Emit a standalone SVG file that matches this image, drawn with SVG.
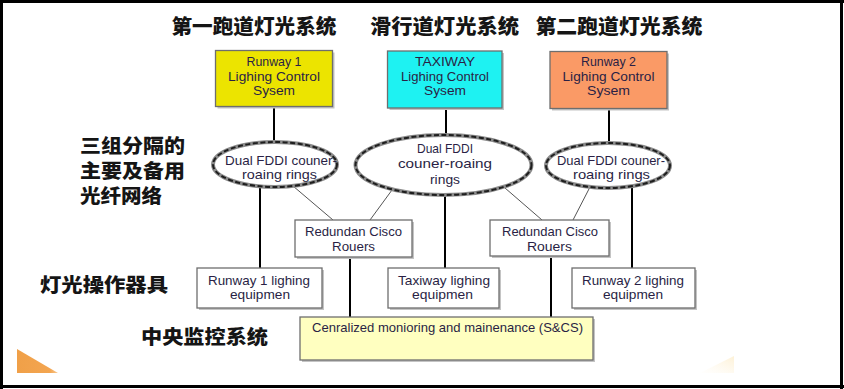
<svg xmlns="http://www.w3.org/2000/svg" width="844" height="389" viewBox="0 0 844 389">
<defs>
<linearGradient id="triG" x1="0" y1="0" x2="1" y2="0">
<stop offset="0" stop-color="#F0A048"/>
<stop offset="0.8" stop-color="#F3A550"/>
<stop offset="1" stop-color="#F8C890"/>
</linearGradient>
<linearGradient id="brG" x1="0" y1="1" x2="1" y2="0">
<stop offset="0" stop-color="#FFFAF0" stop-opacity="0.1"/>
<stop offset="1" stop-color="#FDF1D6"/>
</linearGradient>
<style>
.cjk{font-family:"Noto Sans CJK SC","Noto Sans CJK JP",sans-serif;font-weight:900;fill:#151515;}
.ti{font-size:20.5px;text-anchor:middle;}
.lb{font-size:19px;}
.t{font-family:"Liberation Sans",Arial,sans-serif;font-size:13px;fill:#2a1f45;text-anchor:middle;}
.box{stroke:#6e6e6e;stroke-width:1.3;}
.sh{fill:#c4c4c4;}
.vl{stroke:#000;stroke-width:2;fill:none;}
.dl{stroke:#555;stroke-width:1;fill:none;}
.ring{fill:#fff;stroke:#8c8c8c;stroke-width:4;}
.ringd{fill:none;stroke:#1e1e1e;stroke-width:2;stroke-dasharray:5 2.5;}
</style>
</defs>
<rect x="0" y="0" width="844" height="389" fill="#fff"/>
<g id="frame" stroke="#000" stroke-width="3" fill="none">
<line x1="0" y1="1.5" x2="844" y2="1.5"/>
<line x1="1.5" y1="0" x2="1.5" y2="389"/>
<line x1="0" y1="386.5" x2="844" y2="386.5"/>
<line x1="841.5" y1="0" x2="841.5" y2="389"/>
</g>
<polygon points="17,349 17,373 58,373" fill="url(#triG)"/>
<polygon points="700,373 734,356 734,373" fill="url(#brG)"/>

<g id="titles" class="cjk ti">
<text x="254" y="34" textLength="165" lengthAdjust="spacingAndGlyphs">第一跑道灯光系统</text>
<text x="444.5" y="34" textLength="149" lengthAdjust="spacingAndGlyphs">滑行道灯光系统</text>
<text x="619" y="34" textLength="167" lengthAdjust="spacingAndGlyphs">第二跑道灯光系统</text>
</g>
<g id="labels" class="cjk lb">
<text x="80" y="153" textLength="105" lengthAdjust="spacingAndGlyphs">三组分隔的</text>
<text x="80" y="178" textLength="105" lengthAdjust="spacingAndGlyphs">主要及备用</text>
<text x="80" y="203" textLength="82" lengthAdjust="spacingAndGlyphs">光纤网络</text>
<text x="40" y="292" textLength="128" lengthAdjust="spacingAndGlyphs">灯光操作器具</text>
<text x="141" y="344" textLength="127" lengthAdjust="spacingAndGlyphs">中央监控系统</text>
</g>

<g id="connectors">
<line class="vl" x1="274" y1="107" x2="274" y2="143"/>
<line class="vl" x1="446" y1="108" x2="446" y2="136"/>
<line class="vl" x1="609" y1="109" x2="609" y2="144"/>
<line class="vl" x1="260" y1="186" x2="260" y2="268"/>
<line class="vl" x1="445" y1="194" x2="445" y2="268"/>
<line class="vl" x1="632" y1="187" x2="632" y2="268"/>
<line class="vl" x1="350" y1="257" x2="350" y2="317"/>
<line class="vl" x1="551" y1="256" x2="551" y2="317"/>
<line class="dl" x1="293" y1="186" x2="333" y2="220"/>
<line class="dl" x1="392" y1="190" x2="370" y2="220"/>
<line class="dl" x1="505" y1="188" x2="542" y2="220"/>
<line class="dl" x1="590" y1="187" x2="573" y2="220"/>
</g>

<g id="rwy1-ctrl">
<rect class="sh" x="217.5" y="52.5" width="117" height="56"/>
<rect class="box" x="215.5" y="50.5" width="117" height="56" fill="#ECE400" stroke="#7a7420"/>
<text class="t" x="274" y="66" textLength="55" lengthAdjust="spacingAndGlyphs">Runway 1</text>
<text class="t" x="274" y="81" textLength="92" lengthAdjust="spacingAndGlyphs">Lighing Control</text>
<text class="t" x="274" y="95" textLength="42" lengthAdjust="spacingAndGlyphs">Sysem</text>
</g>
<g id="taxi-ctrl">
<rect class="sh" x="389.5" y="53" width="114.5" height="57"/>
<rect class="box" x="387.5" y="51" width="114.5" height="57" fill="#1EF2F2" stroke="#3a8888"/>
<text class="t" x="445" y="66" textLength="60" lengthAdjust="spacingAndGlyphs">TAXIWAY</text>
<text class="t" x="445" y="81" textLength="88" lengthAdjust="spacingAndGlyphs">Lighing Control</text>
<text class="t" x="445" y="95" textLength="42" lengthAdjust="spacingAndGlyphs">Sysem</text>
</g>
<g id="rwy2-ctrl">
<rect class="sh" x="552" y="53.5" width="117" height="57"/>
<rect class="box" x="550" y="51.5" width="117" height="57" fill="#FA9A66" stroke="#8a5030"/>
<text class="t" x="608.5" y="66" textLength="55" lengthAdjust="spacingAndGlyphs">Runway 2</text>
<text class="t" x="608.5" y="81" textLength="92" lengthAdjust="spacingAndGlyphs">Lighing Control</text>
<text class="t" x="608.5" y="95" textLength="43" lengthAdjust="spacingAndGlyphs">Sysem</text>
</g>

<g id="ring1">
<ellipse class="ring" cx="275" cy="164.5" rx="62" ry="22.5"/>
<ellipse class="ringd" cx="275" cy="164.5" rx="62" ry="22.5"/>
<text class="t" x="281" y="164.5" textLength="112" lengthAdjust="spacingAndGlyphs">Dual FDDI couner-</text>
<text class="t" x="279.5" y="179" textLength="75" lengthAdjust="spacingAndGlyphs">roaing rings</text>
</g>
<g id="ring2">
<ellipse class="ring" cx="443.5" cy="165" rx="88" ry="30"/>
<ellipse class="ringd" cx="443.5" cy="165" rx="88" ry="30"/>
<text class="t" x="445" y="153" textLength="56" lengthAdjust="spacingAndGlyphs">Dual FDDI</text>
<text class="t" x="445" y="168" textLength="94" lengthAdjust="spacingAndGlyphs">couner-roaing</text>
<text class="t" x="445" y="184" textLength="30" lengthAdjust="spacingAndGlyphs">rings</text>
</g>
<g id="ring3">
<ellipse class="ring" cx="608" cy="165.5" rx="62" ry="22.5"/>
<ellipse class="ringd" cx="608" cy="165.5" rx="62" ry="22.5"/>
<text class="t" x="611" y="164.5" textLength="108" lengthAdjust="spacingAndGlyphs">Dual FDDI couner-</text>
<text class="t" x="611.5" y="178.5" textLength="77" lengthAdjust="spacingAndGlyphs">roaing rings</text>
</g>

<g id="router1">
<rect class="sh" x="297" y="222" width="117" height="37"/>
<rect class="box" x="295" y="220" width="117" height="37" fill="#fff"/>
<text class="t" x="353.5" y="236" textLength="97" lengthAdjust="spacingAndGlyphs">Redundan Cisco</text>
<text class="t" x="353.5" y="250.5" textLength="43" lengthAdjust="spacingAndGlyphs">Rouers</text>
</g>
<g id="router2">
<rect class="sh" x="492" y="222" width="119" height="36"/>
<rect class="box" x="490" y="220" width="119" height="36" fill="#fff"/>
<text class="t" x="550" y="236" textLength="96" lengthAdjust="spacingAndGlyphs">Redundan Cisco</text>
<text class="t" x="549.5" y="250.5" textLength="45" lengthAdjust="spacingAndGlyphs">Rouers</text>
</g>

<g id="eq1">
<rect class="sh" x="199" y="270" width="125" height="40"/>
<rect class="box" x="197" y="268" width="125" height="40" fill="#fff"/>
<text class="t" x="259" y="285" textLength="102" lengthAdjust="spacingAndGlyphs">Runway 1 lighing</text>
<text class="t" x="260" y="299" textLength="60" lengthAdjust="spacingAndGlyphs">equipmen</text>
</g>
<g id="eq2">
<rect class="sh" x="390" y="270" width="111" height="40"/>
<rect class="box" x="388" y="268" width="111" height="40" fill="#fff"/>
<text class="t" x="444" y="285" textLength="92" lengthAdjust="spacingAndGlyphs">Taxiway lighing</text>
<text class="t" x="442.5" y="299" textLength="61" lengthAdjust="spacingAndGlyphs">equipmen</text>
</g>
<g id="eq3">
<rect class="sh" x="574" y="270" width="123" height="40"/>
<rect class="box" x="572" y="268" width="123" height="40" fill="#fff"/>
<text class="t" x="633" y="285" textLength="102" lengthAdjust="spacingAndGlyphs">Runway 2 lighing</text>
<text class="t" x="633" y="299" textLength="60" lengthAdjust="spacingAndGlyphs">equipmen</text>
</g>

<g id="central">
<rect class="sh" x="302" y="319" width="293" height="43"/>
<rect class="box" x="300" y="317" width="293" height="43" fill="#FFFFC0" stroke="#8c8c5a"/>
<text class="t" x="447.5" y="332" textLength="271" lengthAdjust="spacingAndGlyphs">Cenralized monioring and mainenance (S&amp;CS)</text>
</g>
</svg>
